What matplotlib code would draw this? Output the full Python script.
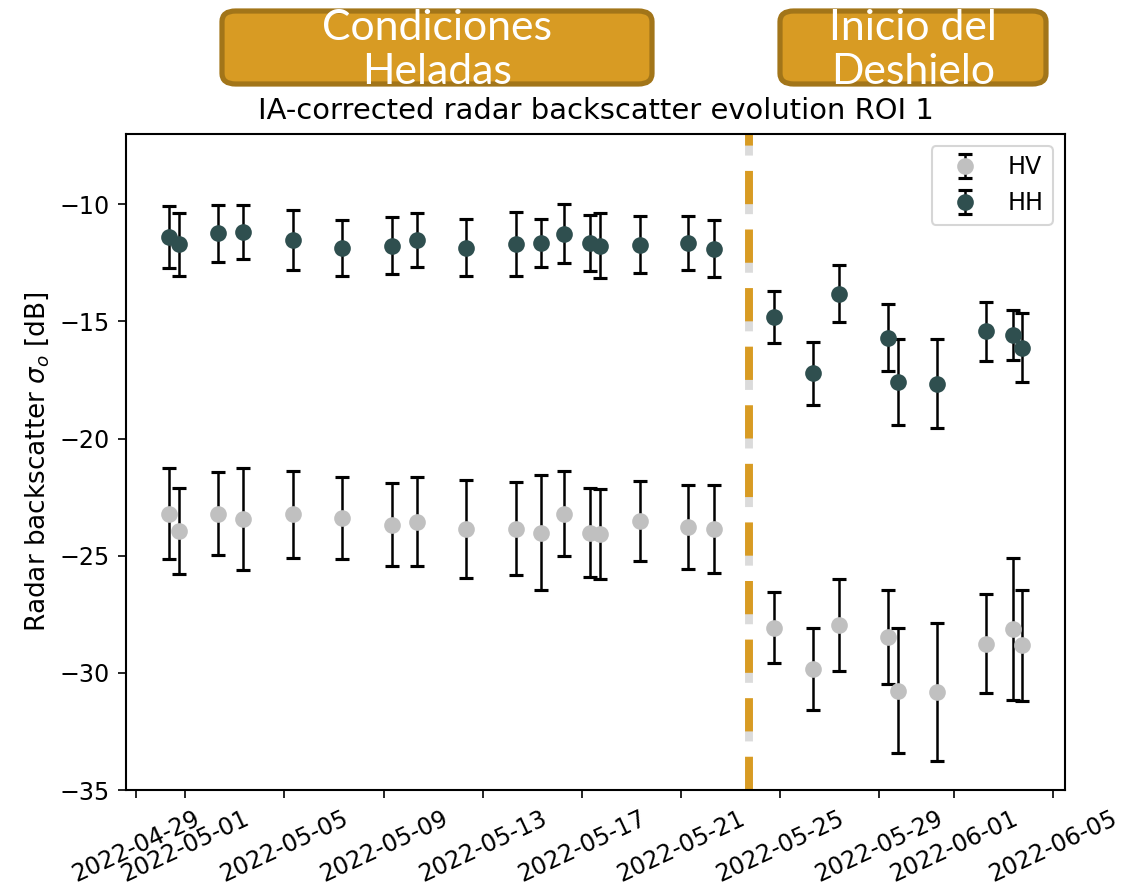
import matplotlib
matplotlib.use("Agg")
import matplotlib.pyplot as plt
import matplotlib.dates as mdates
import matplotlib.patheffects as pe
from matplotlib.patches import FancyBboxPatch
import pandas as pd

# acquisition dates
dates = pd.to_datetime([
    "2022-04-30 08:00", "2022-04-30 17:45", "2022-05-02 08:00", "2022-05-03 08:00",
    "2022-05-05 08:00", "2022-05-07 08:00", "2022-05-09 08:00", "2022-05-10 08:00",
    "2022-05-12 08:00", "2022-05-14 08:00", "2022-05-15 08:00", "2022-05-16 07:00",
    "2022-05-17 08:00", "2022-05-17 17:45", "2022-05-19 08:00", "2022-05-21 07:00",
    "2022-05-22 08:00", "2022-05-24 18:00", "2022-05-26 08:00", "2022-05-27 09:00",
    "2022-05-29 08:00", "2022-05-29 18:00", "2022-05-31 08:00", "2022-06-02 07:30",
    "2022-06-03 09:00", "2022-06-03 18:30",
])
hh_mean = [-11.39, -11.71, -11.24, -11.17, -11.54, -11.86, -11.76, -11.51,
           -11.86, -11.71, -11.65, -11.25, -11.64, -11.76, -11.72, -11.65,
           -11.89, -14.82, -17.21, -13.81, -15.69, -17.58, -17.65, -15.42,
           -15.57, -16.13]
hh_std = [1.32, 1.34, 1.23, 1.15, 1.28, 1.21, 1.20, 1.15,
          1.22, 1.36, 1.01, 1.27, 1.20, 1.38, 1.21, 1.17,
          1.22, 1.12, 1.34, 1.23, 1.42, 1.84, 1.89, 1.26,
          1.06, 1.47]
hv_mean = [-23.21, -23.94, -23.21, -23.43, -23.24, -23.40, -23.67, -23.54,
           -23.87, -23.84, -24.01, -23.20, -24.01, -24.08, -23.52, -23.79,
           -23.87, -28.07, -29.85, -27.97, -28.46, -30.76, -30.82, -28.75,
           -28.12, -28.83]
hv_std = [1.95, 1.83, 1.77, 2.18, 1.85, 1.75, 1.78, 1.90,
          2.10, 2.00, 2.47, 1.82, 1.90, 1.92, 1.70, 1.79,
          1.87, 1.52, 1.75, 1.96, 2.00, 2.66, 2.96, 2.11,
          3.03, 2.37]
thaw_date = pd.Timestamp("2022-05-23 18:00")
phases = ["Condiciones\nHeladas", "Inicio del\nDeshielo"]

GOLD = "#D89B23"; GOLD_EDGE = "#A27519"
HV_C = "silver"; HH_C = "darkslategray"

plt.rcParams["xtick.labelsize"] = 11.4
plt.rcParams["ytick.labelsize"] = 11.4
plt.rcParams["axes.linewidth"] = 1.0

fig = plt.figure(figsize=(1137/150, 886/150), dpi=150)
ax = fig.add_axes([126/1137, 96/886, 939/1137, 656/886])

ax.errorbar(dates, hv_mean, yerr=hv_std, fmt="o", color=HV_C, ecolor="black",
            markersize=7, capsize=3.5, elinewidth=1.2, capthick=1.5, label="HV")
ax.errorbar(dates, hh_mean, yerr=hh_std, fmt="o", color=HH_C, ecolor="black",
            markersize=7, capsize=3.5, elinewidth=1.2, capthick=1.5, label="HH")

ax.axvline(thaw_date, color=GOLD, lw=3.8, linestyle=(0, (4.2, 3.2)),
           path_effects=[pe.SimpleLineShadow(offset=(0, -5), shadow_color="grey", alpha=0.28),
                         pe.Normal()])

ax.set_ylim(-35, -7)
ax.xaxis.set_major_locator(mdates.DayLocator(bymonthday=[1, 5, 9, 13, 17, 21, 25, 29]))
ax.xaxis.set_major_formatter(mdates.DateFormatter("%Y-%m-%d"))
plt.setp(ax.get_xticklabels(), rotation=25)
ax.tick_params(length=4, pad=4)
ax.set_ylabel(r"Radar backscatter $\sigma_o$ [dB]", fontsize=12.6)
ax.set_title("IA-corrected radar backscatter evolution ROI 1", fontsize=13.9, pad=7)
ax.legend(loc="upper right", fontsize=11.4)

# phase labels on top
boxes = [(222, 652), (780, 1046)]
for (x0, x1), txt in zip(boxes, phases):
    bx = FancyBboxPatch((x0/1137, (886-84)/886), (x1-x0)/1137, 73/886,
                        boxstyle="round,pad=0,rounding_size=0.012",
                        transform=fig.transFigure, facecolor=GOLD,
                        edgecolor=GOLD_EDGE, linewidth=2.5, zorder=1)
    fig.patches.append(bx)
    fig.text((x0+x1)/2/1137, (886-50)/886, txt, ha="center", va="center",
             color="white", fontsize=20.5, family="Lato",
             linespacing=1.22, zorder=2)

fig.savefig("out.png", dpi=150, facecolor="white")
